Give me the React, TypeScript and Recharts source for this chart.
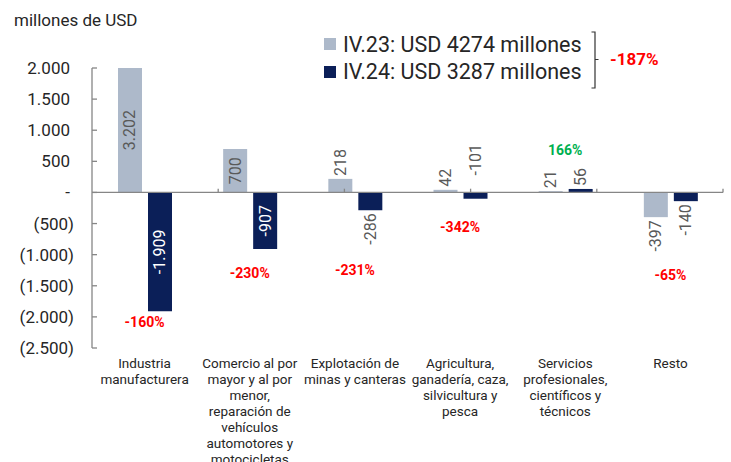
import React from "react";
import {
  BarChart,
  Bar,
  XAxis,
  YAxis,
  LabelList,
  ReferenceLine,
  ReferenceDot,
} from "recharts";

const CATEGORIES = [
  "Industria\nmanufacturera",
  "Comercio al por\nmayor y al por\nmenor,\nreparación de\nvehículos\nautomotores y\nmotocicletas",
  "Explotación de\nminas y canteras",
  "Agricultura,\nganadería, caza,\nsilvicultura y\npesca",
  "Servicios\nprofesionales,\ncientíficos y\ntécnicos",
  "Resto",
];
const IV23 = [3202, 700, 218, 42, 21, -397];
const IV24 = [-1909, -907, -286, -101, 56, -140];
const CHANGE = ["-160%", "-230%", "-231%", "-342%", "166%", "-65%"];
const Y_TICKS = [2000, 1500, 1000, 500, 0, -500, -1000, -1500, -2000, -2500];
const LEGEND = ["IV.23: USD 4274 millones", "IV.24: USD 3287 millones"];
const TOTAL_CHANGE = "-187%";

// where the red/green change labels sit (y in data units)
const CHANGE_Y = [-2090, -1290, -1240, -560, 680, -1320];
// IV.24 bars whose label goes above the axis
const IV24_LABEL_UP = new Set([3]);

const LIGHT = "#ADB9CA";
const DARK = "#0B1F58";
const AXIS = "#868686";
const TXT = "#262626";
const GREY = "#595959";
const RED = "#FF0000";
const GREEN = "#00B050";
const FONT = "Roboto, sans-serif";
const PLOT_TOP = 68;

const data = CATEGORIES.map((name, i) => ({ name, iv23: IV23[i], iv24: IV24[i] }));

const thousands = (v: number) => Math.abs(v).toString().replace(/\B(?=(\d{3})+(?!\d))/g, ".");
const fmtTick = (v: number) => (v === 0 ? "-" : v < 0 ? `(${thousands(v)})` : thousands(v));
const fmtValue = (v: number) => (v < 0 ? "-" : "") + thousands(v);

function YTick({ x, y, payload }: any) {
  const v = payload.value;
  return (
    <text x={v < 0 ? x : x - 4} y={y} textAnchor="end" dominantBaseline="central" fontSize={17} fill={TXT} fontFamily={FONT}>
      {fmtTick(v)}
    </text>
  );
}

function CatTick({ x, y, payload }: any) {
  const lines = String(payload.value).split("\n");
  return (
    <g>
      {lines.map((l, i) => (
        <text key={i} x={x} y={y + 15 + i * 16} textAnchor="middle" dominantBaseline="central" fontSize={13.5} fill={TXT} fontFamily={FONT}>
          {l}
        </text>
      ))}
    </g>
  );
}

const makeLabel = (series: "iv23" | "iv24") => (p: any) => {
  const { x, y, width, height, value, index } = p;
  const top = Math.max(Math.min(y, y + height), PLOT_TOP);
  const bottom = Math.max(y, y + height);
  const cx = x + width / 2;
  const text = fmtValue(value);
  const len = text.length * 8.5;
  let ty: number;
  let anchor: "middle" | "start" | "end";
  let fill = GREY;
  if (bottom - top > len + 8) {
    ty = (top + bottom) / 2;
    anchor = "middle";
    if (series === "iv24") fill = "#fff";
  } else if (value >= 0) {
    ty = top - 3;
    anchor = "start";
  } else if (series === "iv24" && IV24_LABEL_UP.has(index)) {
    ty = top - 17;
    anchor = "start";
  } else {
    ty = bottom + 3;
    anchor = "end";
  }
  return (
    <text
      x={cx}
      y={ty}
      transform={`rotate(-90 ${cx} ${ty})`}
      textAnchor={anchor}
      dominantBaseline="central"
      fontSize={16}
      fill={fill}
      fontFamily={FONT}
    >
      {text}
    </text>
  );
};

export default function App() {
  return (
    <div style={{ position: "absolute", left: 0, top: 0, width: 731, height: 462, overflow: "hidden", background: "#fff", fontFamily: FONT }}>
      <div style={{ position: "absolute", left: 14, top: 9, fontSize: 17, color: TXT, lineHeight: "22px" }}>millones de USD</div>

      <BarChart width={731} height={462} data={data} margin={{ top: PLOT_TOP, right: 8, bottom: 0, left: 0 }} barGap={6}>
        <XAxis xAxisId="cat" dataKey="name" axisLine={false} tickLine={false} tickSize={0} tickMargin={0} height={114} interval={0} tick={<CatTick />} />
        <XAxis xAxisId="num" type="number" scale="linear" domain={[0, 6]} allowDataOverflow hide />
        <YAxis
          domain={[-2500, 2000]}
          ticks={Y_TICKS}
          allowDataOverflow
          width={92}
          axisLine={{ stroke: AXIS, strokeWidth: 1.3 }}
          tickLine={{ stroke: AXIS, strokeWidth: 1.3 }}
          tickSize={-5}
          tickMargin={23}
          interval={0}
          tick={<YTick />}
        />
        <Bar xAxisId="cat" dataKey="iv23" fill={LIGHT} barSize={24} isAnimationActive={false}>
          <LabelList dataKey="iv23" content={makeLabel("iv23")} />
        </Bar>
        <Bar xAxisId="cat" dataKey="iv24" fill={DARK} barSize={24} isAnimationActive={false}>
          <LabelList dataKey="iv24" content={makeLabel("iv24")} />
        </Bar>
        <ReferenceLine xAxisId="cat" y={0} stroke={AXIS} strokeWidth={1.3} />
        {CATEGORIES.map((_, i) => (
          <ReferenceLine
            key={`t${i}`}
            xAxisId="num"
            segment={[
              { x: i + 1, y: 0 },
              { x: i + 1, y: 60 },
            ]}
            stroke={AXIS}
            strokeWidth={1.3}
          />
        ))}
        {CHANGE.map((c, i) => (
          <ReferenceDot
            key={`c${i}`}
            xAxisId="cat"
            x={CATEGORIES[i]}
            y={CHANGE_Y[i]}
            r={0}
            shape={(p: any) => (
              <text
                x={p.cx}
                y={p.cy}
                textAnchor="middle"
                dominantBaseline="central"
                fontSize={14}
                fontWeight="bold"
                fill={c.startsWith("-") ? RED : GREEN}
                fontFamily={FONT}
              >
                {c}
              </text>
            )}
          />
        ))}
      </BarChart>

      {LEGEND.map((t, i) => (
        <div key={t} style={{ position: "absolute", left: 324, top: 32 + i * 27.5, height: 24, display: "flex", alignItems: "center", fontSize: 21.5, color: TXT }}>
          <span style={{ display: "inline-block", width: 12, height: 12, background: i === 0 ? LIGHT : DARK, marginRight: 7 }} />
          <span>{t}</span>
        </div>
      ))}
      <svg style={{ position: "absolute", left: 0, top: 0 }} width={731} height={100}>
        <path d="M591.5 32 H595 V88 H591.5 M595 59.5 H598.5" fill="none" stroke="#333" strokeWidth={1.2} />
        <text x={610} y={59} dominantBaseline="central" fontSize={17} fontWeight="bold" fill={RED} fontFamily={FONT}>
          {TOTAL_CHANGE}
        </text>
      </svg>
    </div>
  );
}
